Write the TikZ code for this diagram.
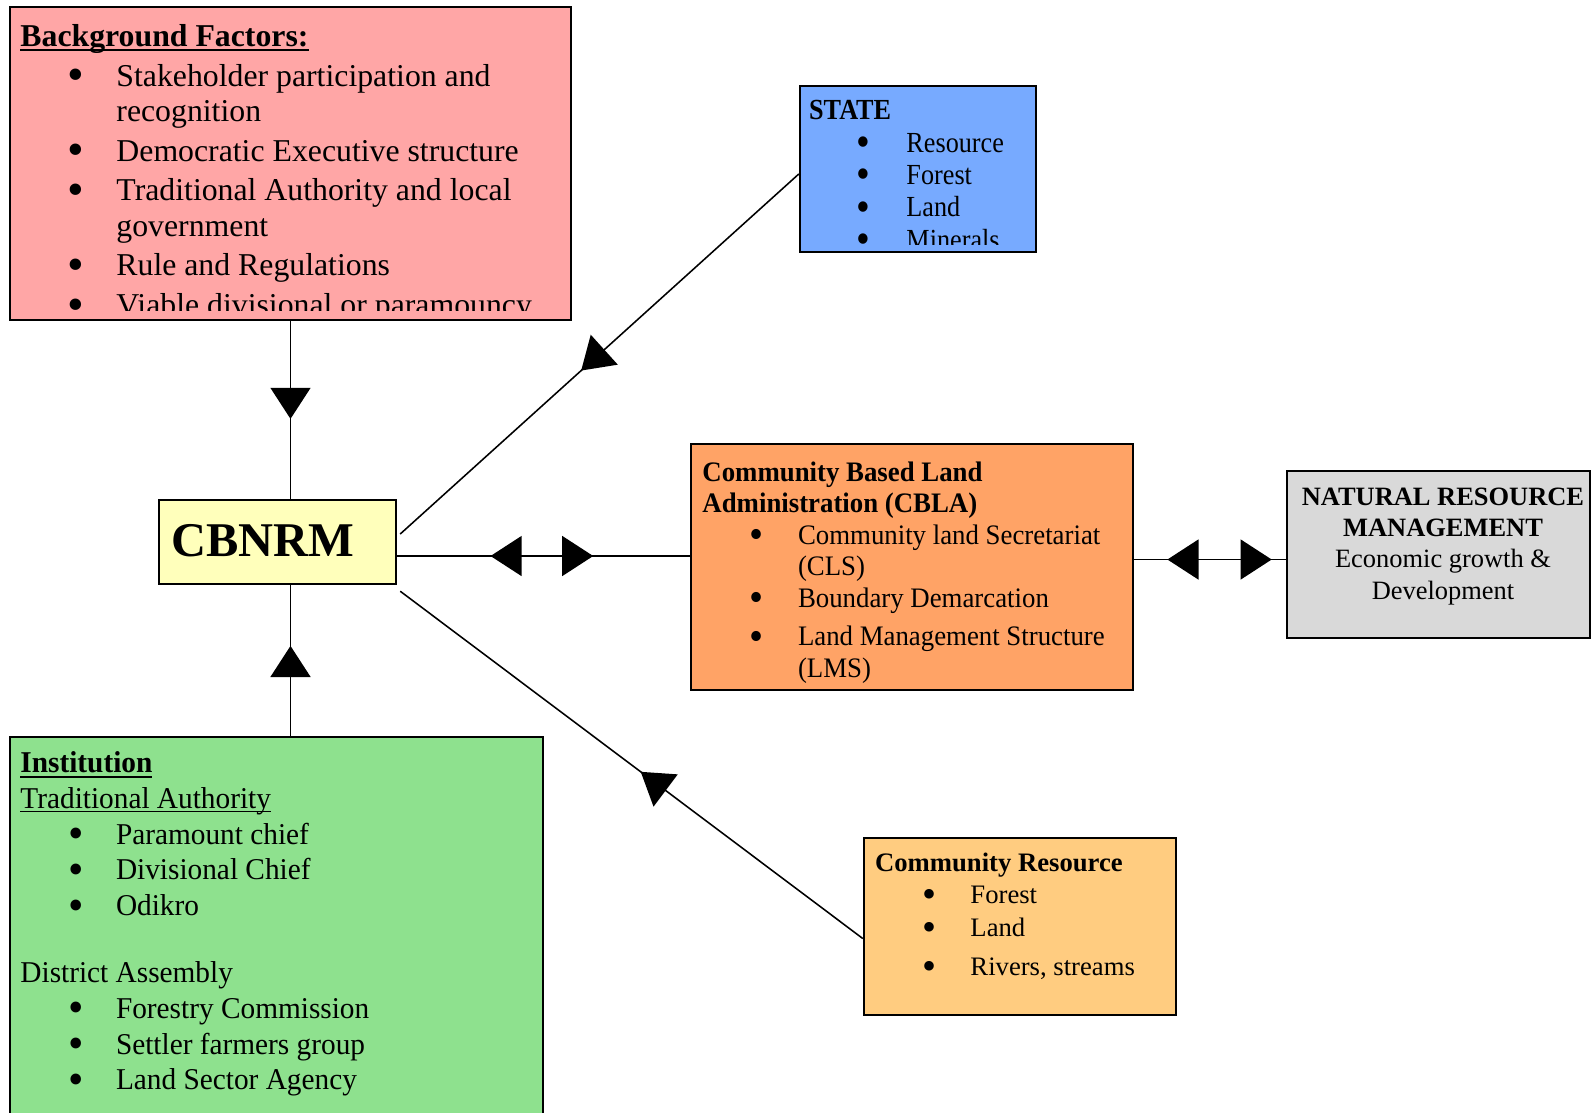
\documentclass[tikz,border=0pt]{standalone}
\usepackage{graphicx}
\usepackage{fontspec}
\setmainfont{Liberation Serif}
\newfontfamily\statefont[FakeStretch=0.9]{Liberation Serif}
\newfontfamily\cblafont[FakeStretch=0.95]{Liberation Serif}
\newfontfamily\instfont[FakeStretch=0.97]{Liberation Serif}
\usetikzlibrary{arrows.meta,decorations.markings,fit,calc}
\definecolor{bgpink}{HTML}{FFA6A6}
\definecolor{stateblue}{HTML}{77AAFF}
\definecolor{cbnrmyellow}{HTML}{FFFFBB}
\definecolor{cblaorange}{HTML}{FFA366}
\definecolor{nrmgrey}{HTML}{D9D9D9}
\definecolor{instgreen}{HTML}{8EE18E}
\definecolor{cresorange}{HTML}{FFCC80}
\newlength{\bulx}
\newlength{\bulw}
\newcommand{\bul}{\makebox[\bulw][l]{\hspace*{\bulx}\raisebox{-0.15em}{\scalebox{1.5}{\textbullet}}}}
\newsavebox{\ulsave}
\newcommand{\ulined}[3]{\sbox{\ulsave}{#3}\rlap{\rule[#1]{\wd\ulsave}{#2}}\usebox{\ulsave}}
\tikzset{
	box/.style={draw,line width=1.1pt,inner sep=0pt},
	txt/.style={anchor=base west,inner sep=0pt},
	link/.style={line width=0.7pt},
	>={Triangle[length=14pt,width=18pt]},
	headat/.style={postaction={decorate,decoration={markings,mark=at position #1 with {\arrow{>}}}}},
	rheadat/.style={postaction={decorate,decoration={markings,mark=at position #1 with {\arrowreversed{>}}}}}
}
\begin{document}
\begin{tikzpicture}[x=0.45pt,y=-0.45pt]
	\clip (0,0) rectangle (1591,1112);
	\node [box,fill=bgpink,fit={(10,7) (571,320)}] (bg) {};
	\node [box,fill=stateblue,fit={(800,86) (1036,252)}] (state) {};
	\node [box,fill=cbnrmyellow,fit={(159,500) (396,584)}] (cbnrm) {};
	\node [box,fill=cblaorange,fit={(691,444) (1133,690)}] (cbla) {};
	\node [box,fill=nrmgrey,fit={(1287,471) (1590,638)}] (nrm) {};
	\node [box,fill=instgreen,fit={(10,737) (543,1125)}] (inst) {};
	\node [box,fill=cresorange,fit={(864,838) (1176,1015)}] (cres) {};

	\begin{scope}
		\clip (bg.north west) rectangle (571,310);
		\node [txt] (bgtext) at (20,46.5) {\fontsize{14.3}{16}\selectfont
			\setlength{\bulx}{21.1pt}\setlength{\bulw}{43.2pt}%
			\begin{tabular}[t]{@{}l@{}l@{}}
				\multicolumn{2}{@{}l@{}}{\bfseries\ulined{-2.2pt}{1.2pt}{Background Factors:}}\\[1.8pt]
				\bul & Stakeholder participation and\\
				& recognition\\[1.8pt]
				\bul & Democratic Executive structure\\[1.8pt]
				\bul & Traditional Authority and local\\
				& government\\[1.8pt]
				\bul & Rule and Regulations\\[1.8pt]
				\bul & Viable divisional or paramouncy
			\end{tabular}};
	\end{scope}

	\begin{scope}
		\clip (state.north west) rectangle (1036,244);
		\node [txt] (statetext) at (808.7,119.6) {\statefont\fontsize{13.1}{14.6}\selectfont
			\setlength{\bulx}{21.5pt}\setlength{\bulw}{43.8pt}%
			\begin{tabular}[t]{@{}l@{}l@{}}
				\multicolumn{2}{@{}l@{}}{\bfseries STATE}\\
				\bul & Resource\\
				\bul & Forest\\
				\bul & Land\\
				\bul & Minerals
			\end{tabular}};
	\end{scope}

	\node [txt] (cbnrmtext) at (171,556) {\fontsize{21.8}{24}\selectfont\bfseries CBNRM};

	\node [txt] (cblatext) at (702,481) {\cblafont\fontsize{12.7}{14.2}\selectfont
		\setlength{\bulx}{21.1pt}\setlength{\bulw}{43pt}%
		\begin{tabular}[t]{@{}l@{}l@{}}
			\multicolumn{2}{@{}l@{}}{\bfseries Community Based Land}\\
			\multicolumn{2}{@{}l@{}}{\bfseries Administration (CBLA)}\\
			\bul & Community land Secretariat\\
			& (CLS)\\
			\bul & Boundary Demarcation\\[3.2pt]
			\bul & Land Management Structure\\
			& (LMS)
		\end{tabular}};

	\node [anchor=base,inner sep=0pt] (nrmtext) at (1443,505) {\fontsize{11.9}{14.1}\selectfont
		\begin{tabular}[t]{@{}c@{}}
			\bfseries NATURAL RESOURCE\\
			\bfseries MANAGEMENT\\
			Economic growth \&\\
			Development
		\end{tabular}};

	\node [txt] (insttext) at (20,772.7) {\instfont\fontsize{13.6}{16.07}\selectfont
		\setlength{\bulx}{21.5pt}\setlength{\bulw}{43pt}%
		\begin{tabular}[t]{@{}l@{}l@{}}
			\multicolumn{2}{@{}l@{}}{\bfseries\ulined{-2.3pt}{0.9pt}{Institution}}\\
			\multicolumn{2}{@{}l@{}}{\ulined{-1.6pt}{0.5pt}{Traditional Authority}}\\
			\bul & Paramount chief\\
			\bul & Divisional Chief\\
			\bul & Odikro\\[14.1pt]
			\multicolumn{2}{@{}l@{}}{District Assembly}\\
			\bul & Forestry Commission\\
			\bul & Settler farmers group\\
			\bul & Land Sector Agency
		\end{tabular}};

	\node [txt] (crestext) at (874.7,871.5) {\fontsize{12}{14.6}\selectfont
		\setlength{\bulx}{21.3pt}\setlength{\bulw}{42.9pt}%
		\begin{tabular}[t]{@{}l@{}l@{}}
			\multicolumn{2}{@{}l@{}}{\bfseries Community Resource}\\
			\bul & Forest\\
			\bul & Land\\[3.2pt]
			\bul & Rivers, streams
		\end{tabular}};

	\draw [link,headat=0.55] (bg.south) -- (bg.south |- cbnrm.north);
	\draw [link,headat=0.597] (bg.south |- inst.north) -- (bg.south |- cbnrm.south);
	\draw [link,headat=0.546] ($(state.west)+(0,5)$) -- ($(cbnrm.east)+(3,-8)$);
	\draw [link,headat=0.48] ($(cres.west)+(0,12)$) -- ($(cbnrm.south east)+(3,6)$);
	\coordinate (cbnrmr) at ($(cbnrm.east)+(0,14)$);
	\draw [link,rheadat=0.319,headat=0.670] (cbnrmr) -- (cbnrmr -| cbla.west);
	\coordinate (nrml) at ($(nrm.west)+(0,5)$);
	\draw [link,rheadat=0.219,headat=0.907] (nrml -| cbla.east) -- (nrml);
\end{tikzpicture}
\end{document}
